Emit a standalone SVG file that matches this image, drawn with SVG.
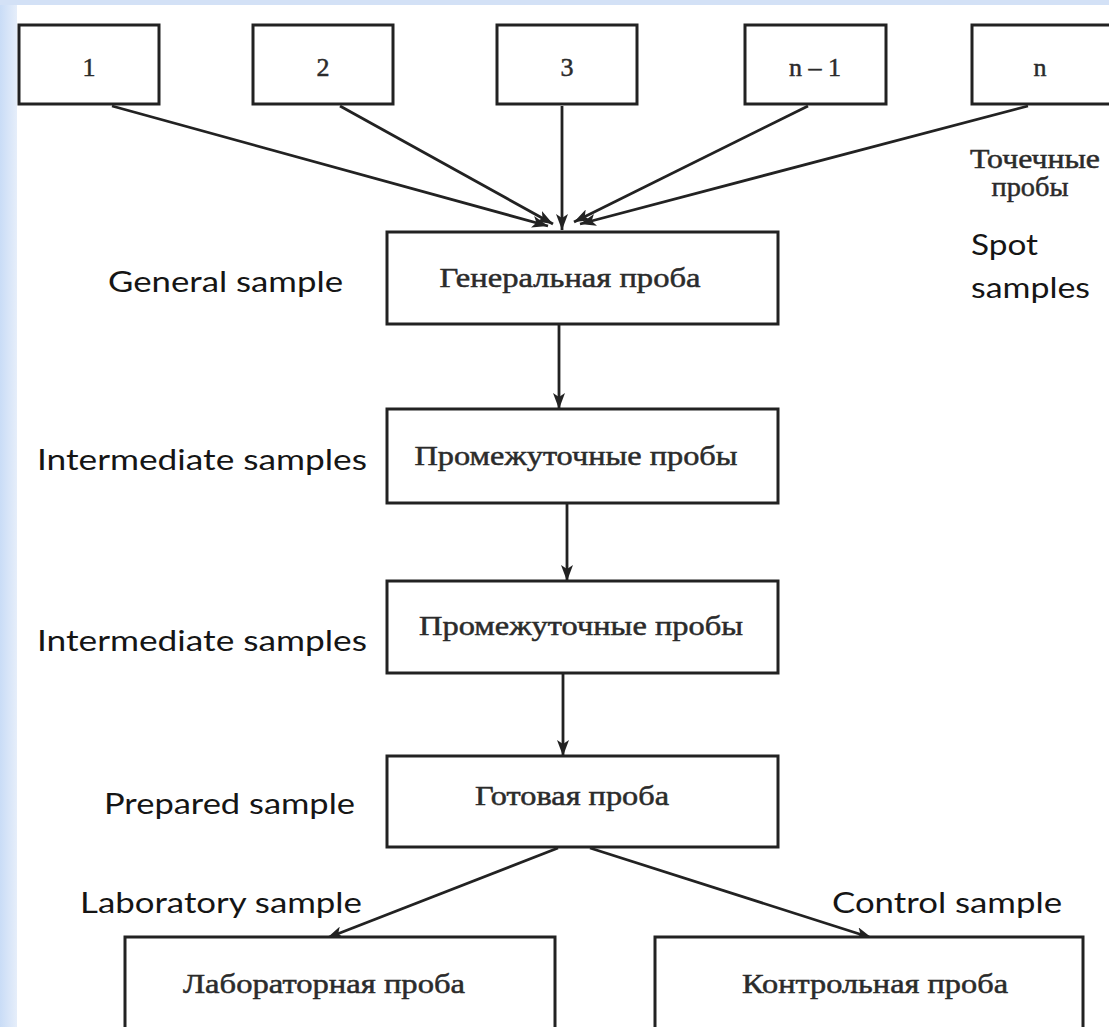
<svg xmlns="http://www.w3.org/2000/svg" width="1109" height="1027" viewBox="0 0 1109 1027">
<defs>
  <linearGradient id="leftbar" x1="0" y1="0" x2="1" y2="0">
    <stop offset="0" stop-color="#c9dcf6"/>
    <stop offset="1" stop-color="#e6eefa"/>
  </linearGradient>
  <marker id="ah" viewBox="0 0 16 12" refX="16" refY="6" markerWidth="16" markerHeight="12" markerUnits="userSpaceOnUse" orient="auto">
    <path d="M0,0 L16,6 L0,12 L4,6 Z" fill="#222"/>
  </marker>
  <style>
    .box { fill: #ffffff; stroke: #222; stroke-width: 3; }
    .conn { stroke: #222; stroke-width: 2.8; fill: none; marker-end: url(#ah); }
    .ru { font-family: "Liberation Serif", "Times New Roman", serif; fill: #2b2b2b; stroke: #2b2b2b; stroke-width: 0.5; font-size: 28px; text-anchor: middle; }
    .num { font-family: "Liberation Serif", "Times New Roman", serif; fill: #2b2b2b; stroke: #2b2b2b; stroke-width: 0.5; font-size: 26px; text-anchor: middle; }
    .en { font-family: Lato, "Liberation Sans", sans-serif; fill: #151515; font-size: 29px; }
  </style>
</defs>
<rect x="0" y="0" width="1109" height="1027" fill="#ffffff"/>
<rect x="0" y="0" width="17" height="1027" fill="url(#leftbar)"/>
<rect x="0" y="0" width="1109" height="5" fill="#d3e1f6"/>

<g id="connectors">
  <line class="conn" x1="112" y1="106" x2="548" y2="226"/>
  <line class="conn" x1="340" y1="106" x2="553" y2="224"/>
  <line class="conn" x1="562" y1="106" x2="562" y2="230"/>
  <line class="conn" x1="808" y1="106" x2="574" y2="222"/>
  <line class="conn" x1="1028" y1="106" x2="580" y2="224"/>
  <line class="conn" x1="559" y1="325" x2="559" y2="409"/>
  <line class="conn" x1="567" y1="504" x2="567" y2="581"/>
  <line class="conn" x1="563" y1="674" x2="563" y2="756"/>
  <line class="conn" x1="558" y1="848" x2="327" y2="938"/>
  <line class="conn" x1="590" y1="848" x2="872" y2="938"/>
</g>

<g id="node-1"><rect class="box" x="19" y="25" width="140" height="79"/><text class="num" x="89" y="76">1</text></g>
<g id="node-2"><rect class="box" x="253" y="25" width="140" height="79"/><text class="num" x="323" y="76">2</text></g>
<g id="node-3"><rect class="box" x="497" y="25" width="140" height="79"/><text class="num" x="567" y="76">3</text></g>
<g id="node-n-1"><rect class="box" x="745" y="25" width="141" height="79"/><text class="num" x="815" y="76">n – 1</text></g>
<g id="node-n"><rect class="box" x="972" y="25" width="145" height="79"/><text class="num" x="1040" y="76">n</text></g>

<g id="node-general"><rect class="box" x="387" y="232" width="391" height="92"/><text class="ru" x="570" y="287" textLength="261" lengthAdjust="spacingAndGlyphs">Генеральная проба</text></g>
<g id="node-intermediate-1"><rect class="box" x="387" y="409" width="391" height="94"/><text class="ru" x="576" y="465" textLength="323" lengthAdjust="spacingAndGlyphs">Промежуточные пробы</text></g>
<g id="node-intermediate-2"><rect class="box" x="387" y="581" width="391" height="92"/><text class="ru" x="581" y="635" textLength="324" lengthAdjust="spacingAndGlyphs">Промежуточные пробы</text></g>
<g id="node-prepared"><rect class="box" x="387" y="756" width="391" height="91"/><text class="ru" x="572" y="805" textLength="194" lengthAdjust="spacingAndGlyphs">Готовая проба</text></g>
<g id="node-laboratory"><rect class="box" x="125" y="937" width="430" height="110"/><text class="ru" x="324" y="993" textLength="282" lengthAdjust="spacingAndGlyphs">Лабораторная проба</text></g>
<g id="node-control"><rect class="box" x="655" y="937" width="428" height="110"/><text class="ru" x="875" y="993" textLength="266" lengthAdjust="spacingAndGlyphs">Контрольная проба</text></g>

<g id="labels">
  <text class="ru" x="1035" y="168" font-size="24" textLength="130" lengthAdjust="spacingAndGlyphs">Точечные</text>
  <text class="ru" x="1030" y="196" font-size="24" textLength="77" lengthAdjust="spacingAndGlyphs">пробы</text>
  <text class="en" x="971" y="255" textLength="67" lengthAdjust="spacingAndGlyphs">Spot</text>
  <text class="en" x="971" y="298" textLength="119" lengthAdjust="spacingAndGlyphs">samples</text>
  <text class="en" x="108" y="292" textLength="235" lengthAdjust="spacingAndGlyphs">General sample</text>
  <text class="en" x="37" y="470" textLength="330" lengthAdjust="spacingAndGlyphs">Intermediate samples</text>
  <text class="en" x="37" y="651" textLength="330" lengthAdjust="spacingAndGlyphs">Intermediate samples</text>
  <text class="en" x="104" y="814" textLength="251" lengthAdjust="spacingAndGlyphs">Prepared sample</text>
  <text class="en" x="80" y="913" textLength="282" lengthAdjust="spacingAndGlyphs">Laboratory sample</text>
  <text class="en" x="832" y="913" textLength="230" lengthAdjust="spacingAndGlyphs">Control sample</text>
</g>
</svg>
